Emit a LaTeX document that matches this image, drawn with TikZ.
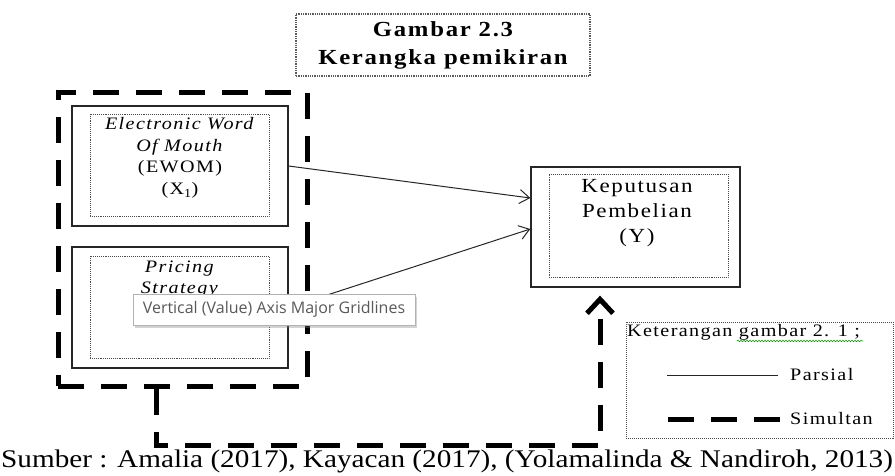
\documentclass[tikz,border=0pt]{standalone}
\usepackage{fontspec}
\setmainfont{Liberation Serif}[FakeStretch=1.15]
\newfontfamily\widefont{Liberation Serif}[FakeStretch=1.15,LetterSpace=8]
\newfontfamily\tipfont{Open Sans}
\usetikzlibrary{arrows.meta,positioning,calc,shadows,decorations.pathmorphing}

\begin{document}
\begin{tikzpicture}[x=1pt, y=-1pt,
  outerbox/.style={draw=black!85, line width=1.3pt, minimum width=216pt, minimum height=120pt},
  innerbox/.style={draw=black!70, densely dotted, line width=0.9pt, minimum width=179pt, minimum height=102pt},
  vartext/.style={align=center, inner sep=0pt, font=\widefont\fontsize{17.5}{21.5}\selectfont},
  legtext/.style={anchor=west, inner sep=0pt, font=\widefont\fontsize{17.5}{20}\selectfont},
  simline/.style={line width=5pt, dash pattern=on 26pt off 17pt},
  parline/.style={line width=1pt, black!85, -{Straight Barb[length=10pt,width=14pt]}}
]
\useasboundingbox (0,0) rectangle (895,475);
\node[draw=black!65, densely dotted, line width=1.3pt, minimum width=294pt, minimum height=62pt, align=center, font=\widefont\bfseries\fontsize{21.5}{28}\selectfont] (title) at (443,45) {Gambar 2.3\\Kerangka pemikiran};
\node[simline, draw, minimum width=249pt, minimum height=294pt] (simbox) at (182.5,239) {};
\node[outerbox] (ewom) at (180,166) {};
\node[innerbox] (ewomin) at (179.5,165) {};
\node[vartext] (ewomtxt) at (180,158) {\textit{Electronic Word}\\\textit{Of Mouth}\\(EWOM)\\(X\textsubscript{1})};
\node[outerbox, minimum height=121pt] (pricing) at (180,307.5) {};
\node[innerbox] (pricingin) at (179.5,307) {};
\node[vartext] (pricingtxt) at (180,290) {\textit{Pricing}\\\textit{Strategy}\\(X\textsubscript{2})};
\node[outerbox, minimum width=209pt] (kep) at (635.5,227) {};
\node[innerbox, minimum height=103pt] (kepin) at (638.5,225.5) {};
\node[vartext, font=\widefont\fontsize{20}{25}\selectfont] (keptxt) at (637,213) {Keputusan\\Pembelian\\(Y)};
\draw[parline] (ewom.east) -- ([yshift=29pt]kep.west);
\draw[parline] (pricing.east) -- ([yshift=-2pt]kep.west);
\draw[simline, -{Straight Barb[length=14pt,width=26pt]}] ([xshift=-26.5pt]simbox.south) -- ++(0,57) -| ([xshift=-35.5pt,yshift=-8pt]kep.south);
\node[draw=black!70, densely dotted, line width=1pt, minimum width=267pt, minimum height=116pt] (legend) at (759.5,380) {};
\node[legtext] (legtitle) at (627,332) {Keterangan gambar 2. 1 ;};
\draw[green!60!black, line width=0.6pt, decorate, decoration={snake, amplitude=0.7pt, segment length=3pt}] (737,341) -- (863,341);
\node[legtext] (partxt) at (790,375) {Parsial};
\node[legtext] (simtxt) at (790,419) {Simultan};
\draw[line width=1pt, black!85] ([xshift=-12pt]partxt.west) -- ++(-111,0);
\draw[simline] ([xshift=-122pt]simtxt.west) -- ++(112,0);
\node[anchor=base west, inner sep=0pt, font=\fontsize{25.4}{30}\selectfont] (source) at (1,467) {Sumber : Amalia (2017), Kayacan (2017), (Yolamalinda \& Nandiroh, 2013)};
\node[draw=black!30, fill=white, drop shadow={opacity=0.35, shadow xshift=2pt, shadow yshift=-3pt}, minimum width=282pt, minimum height=31pt, text=black!65, font=\tipfont\fontsize{16}{18}\selectfont] (tip) at (274,309.5) {Vertical (Value) Axis Major Gridlines};
\end{tikzpicture}
\end{document}
